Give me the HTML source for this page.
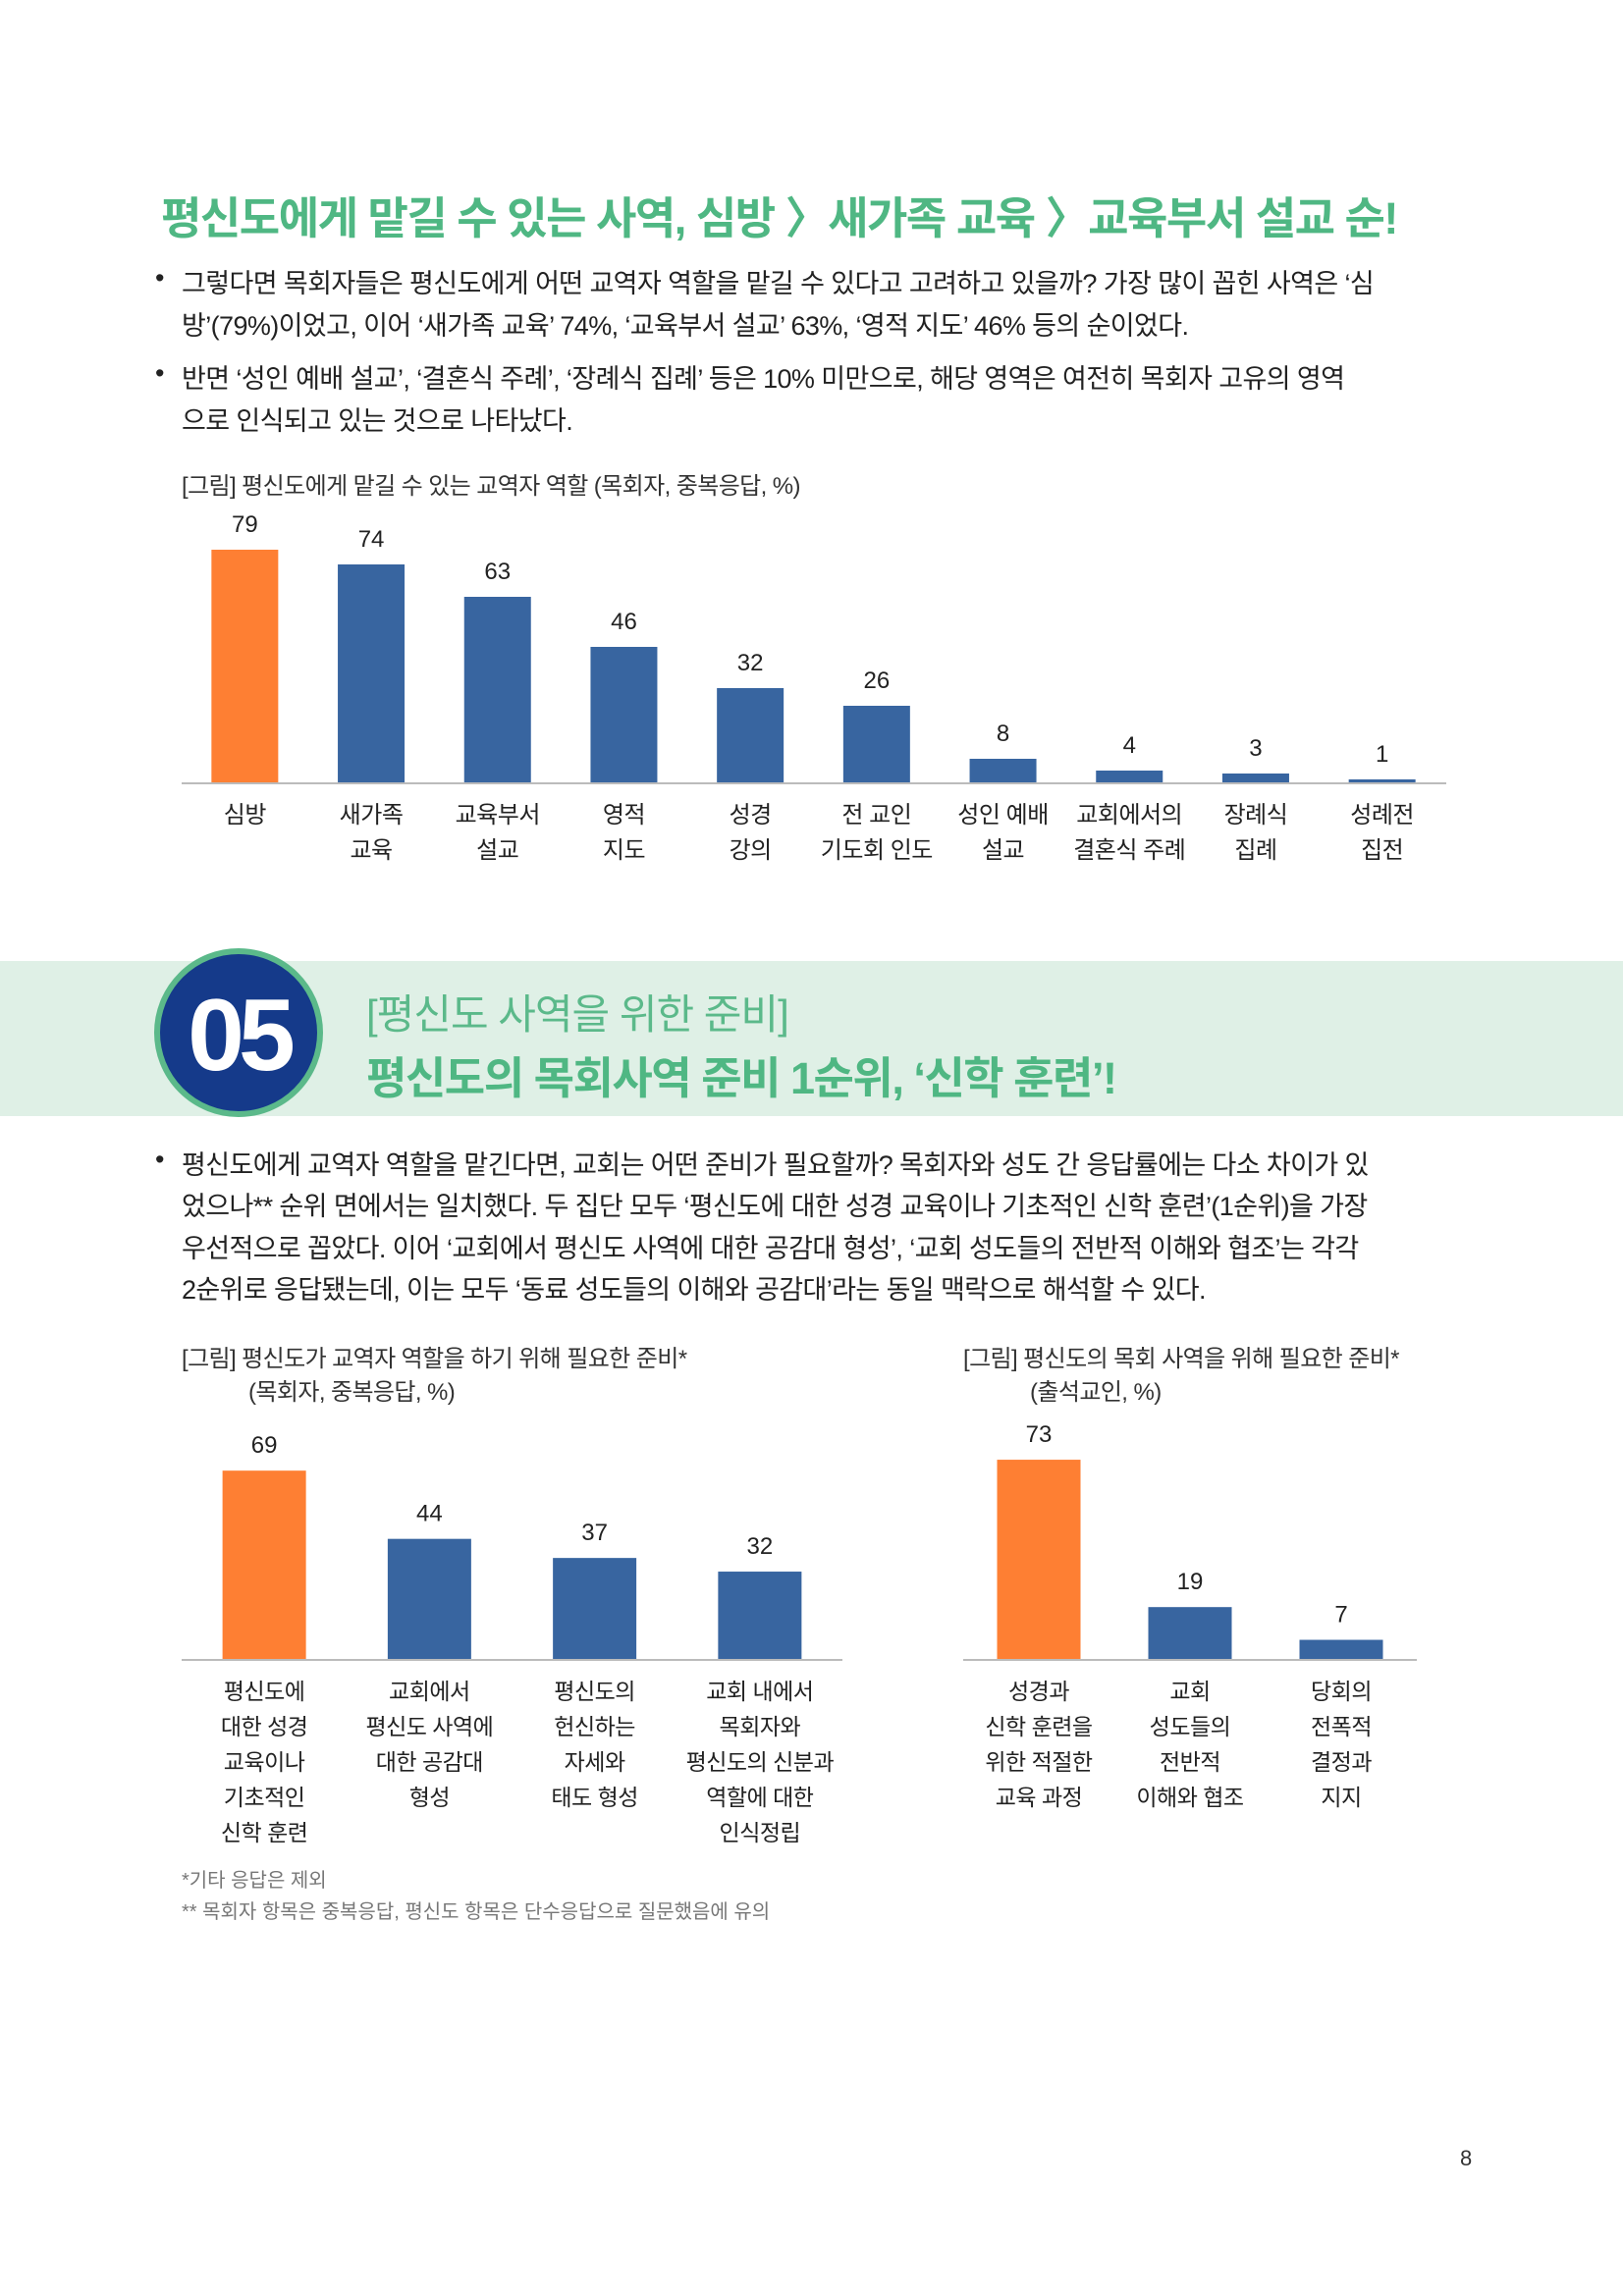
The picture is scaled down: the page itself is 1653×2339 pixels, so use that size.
<!DOCTYPE html>
<html lang="ko"><head><meta charset="utf-8">
<style>
body{margin:0;background:#fff;}
#page{position:relative;width:1653px;height:2339px;overflow:hidden;background:#fff;font-family:"Liberation Sans","Noto Sans CJK KR",sans-serif;color:#222;}
.abs{position:absolute;white-space:nowrap;}
.title{left:164px;top:186px;font-size:45px;font-weight:bold;color:#4fb783;letter-spacing:-1.5px;}
.para{left:185px;font-size:27px;line-height:43px;letter-spacing:-0.6px;color:#222;}
.bullet{left:158px;font-size:27px;}
.cap{font-size:24px;color:#333;letter-spacing:-0.6px;}
svg text{font-family:"Liberation Sans","Noto Sans CJK KR",sans-serif;}
</style></head>
<body>
<div id="page">
<div class="abs title">평신도에게 맡길 수 있는 사역, 심방 〉새가족 교육 〉교육부서 설교 순!</div>

<div class="abs bullet" style="top:268px">•</div>
<div class="abs para" style="top:268px">그렇다면 목회자들은 평신도에게 어떤 교역자 역할을 맡길 수 있다고 고려하고 있을까? 가장 많이 꼽힌 사역은 ‘심<br>방’(79%)이었고, 이어 ‘새가족 교육’ 74%, ‘교육부서 설교’ 63%, ‘영적 지도’ 46% 등의 순이었다.</div>
<div class="abs bullet" style="top:365px">•</div>
<div class="abs para" style="top:365px">반면 ‘성인 예배 설교’, ‘결혼식 주례’, ‘장례식 집례’ 등은 10% 미만으로, 해당 영역은 여전히 목회자 고유의 영역<br>으로 인식되고 있는 것으로 나타났다.</div>

<div class="abs cap" style="left:185px;top:475px">[그림] 평신도에게 맡길 수 있는 교역자 역할 (목회자, 중복응답, %)</div>

<svg class="abs" style="left:0;top:0" width="1653" height="2339" id="charts"></svg>

<div class="abs" style="left:0;top:979px;width:1653px;height:158px;background:#dff0e6"></div>
<div class="abs" style="left:157px;top:966px;width:172px;height:172px;border-radius:50%;background:#153a8a;border:6px solid #5bb98a;box-sizing:border-box;"></div>
<div class="abs" style="left:157px;top:990px;width:172px;text-align:center;font-size:104px;font-weight:bold;color:#fff;letter-spacing:-6px;line-height:130px;">05</div>
<div class="abs" style="left:373px;top:1000px;font-size:42px;color:#5bb98a;letter-spacing:-1px;">[평신도 사역을 위한 준비]</div>
<div class="abs" style="left:373px;top:1062px;font-size:45px;font-weight:bold;color:#4fb783;letter-spacing:-1.5px;">평신도의 목회사역 준비 1순위, ‘신학 훈련’!</div>

<div class="abs bullet" style="top:1166px">•</div>
<div class="abs para" style="top:1166px;line-height:42.3px">평신도에게 교역자 역할을 맡긴다면, 교회는 어떤 준비가 필요할까? 목회자와 성도 간 응답률에는 다소 차이가 있<br>었으나** 순위 면에서는 일치했다. 두 집단 모두 ‘평신도에 대한 성경 교육이나 기초적인 신학 훈련’(1순위)을 가장<br>우선적으로 꼽았다. 이어 ‘교회에서 평신도 사역에 대한 공감대 형성’, ‘교회 성도들의 전반적 이해와 협조’는 각각<br>2순위로 응답됐는데, 이는 모두 ‘동료 성도들의 이해와 공감대’라는 동일 맥락으로 해석할 수 있다.</div>

<div class="abs cap" style="left:185px;top:1368px;line-height:34px">[그림] 평신도가 교역자 역할을 하기 위해 필요한 준비*<br><span style="padding-left:68px">(목회자, 중복응답, %)</span></div>
<div class="abs cap" style="left:981px;top:1368px;line-height:34px">[그림] 평신도의 목회 사역을 위해 필요한 준비*<br><span style="padding-left:68px">(출석교인, %)</span></div>

<div class="abs" style="left:185px;top:1900px;font-size:20px;color:#777;line-height:32px">*기타 응답은 제외<br>** 목회자 항목은 중복응답, 평신도 항목은 단수응답으로 질문했음에 유의</div>
<div class="abs" style="left:1487px;top:2186px;font-size:22px;color:#333">8</div>

<script>
const c1Cats=[["심방"],["새가족","교육"],["교육부서","설교"],["영적","지도"],["성경","강의"],["전 교인","기도회 인도"],["성인 예배","설교"],["교회에서의","결혼식 주례"],["장례식","집례"],["성례전","집전"]];
const c1Vals=[79,74,63,46,32,26,8,4,3,1];
const c2Cats=[["평신도에","대한 성경","교육이나","기초적인","신학 훈련"],["교회에서","평신도 사역에","대한 공감대","형성"],["평신도의","헌신하는","자세와","태도 형성"],["교회 내에서","목회자와","평신도의 신분과","역할에 대한","인식정립"]];
const c2Vals=[69,44,37,32];
const c3Cats=[["성경과","신학 훈련을","위한 적절한","교육 과정"],["교회","성도들의","전반적","이해와 협조"],["당회의","전폭적","결정과","지지"]];
const c3Vals=[73,19,7];

const svg=document.getElementById('charts');
const NS='http://www.w3.org/2000/svg';
function mk(tag,attrs){const e=document.createElementNS(NS,tag);for(const k in attrs)e.setAttribute(k,attrs[k]);svg.appendChild(e);return e;}

function drawChart(name,cats,vals,cfg){
  const n=cats.length;
  const step=(cfg.x1-cfg.x0)/n;
  const xc=i=>cfg.x0+step*(i+0.5)+cfg.shift;
  const yv=v=>cfg.base-v*cfg.scale;
  const ax=mk('line',{x1:cfg.lx0,x2:cfg.lx1,y1:cfg.base+1,y2:cfg.base+1,stroke:'#bbb','stroke-width':2});
  
  
  vals.forEach((v,i)=>{
    const r=mk('rect',{x:xc(i)-cfg.bw/2,y:yv(v),width:cfg.bw,height:v*cfg.scale,fill:i===0?'#fe7f33':'#3865a0'});
    
    
    const t=mk('text',{x:xc(i),y:yv(v)-18,'text-anchor':'middle','font-size':cfg.fs,fill:'#222'});
    t.textContent=v;
    
    
    cats[i].forEach((line,j)=>{
      const l=mk('text',{x:xc(i),y:cfg.ly+j*cfg.lh,'text-anchor':'middle','font-size':cfg.lfs,fill:'#222','letter-spacing':'-0.5'});
      l.textContent=line;
      
      
    });
  });
}
drawChart('chart1',c1Cats,c1Vals,{x0:185,x1:1472,shift:0,lx0:185,lx1:1473,base:797,scale:3.0,bw:68,fs:24,lfs:24,ly:838,lh:36});
drawChart('chart2',c2Cats,c2Vals,{x0:185,x1:858,shift:0,lx0:185,lx1:858,base:1690,scale:2.78,bw:85,fs:24,lfs:23,ly:1731,lh:36});
drawChart('chart3',c3Cats,c3Vals,{x0:981,x1:1443,shift:0,lx0:981,lx1:1443,base:1690,scale:2.78,bw:85,fs:24,lfs:23,ly:1731,lh:36});
</script>
</div>
</body></html>
